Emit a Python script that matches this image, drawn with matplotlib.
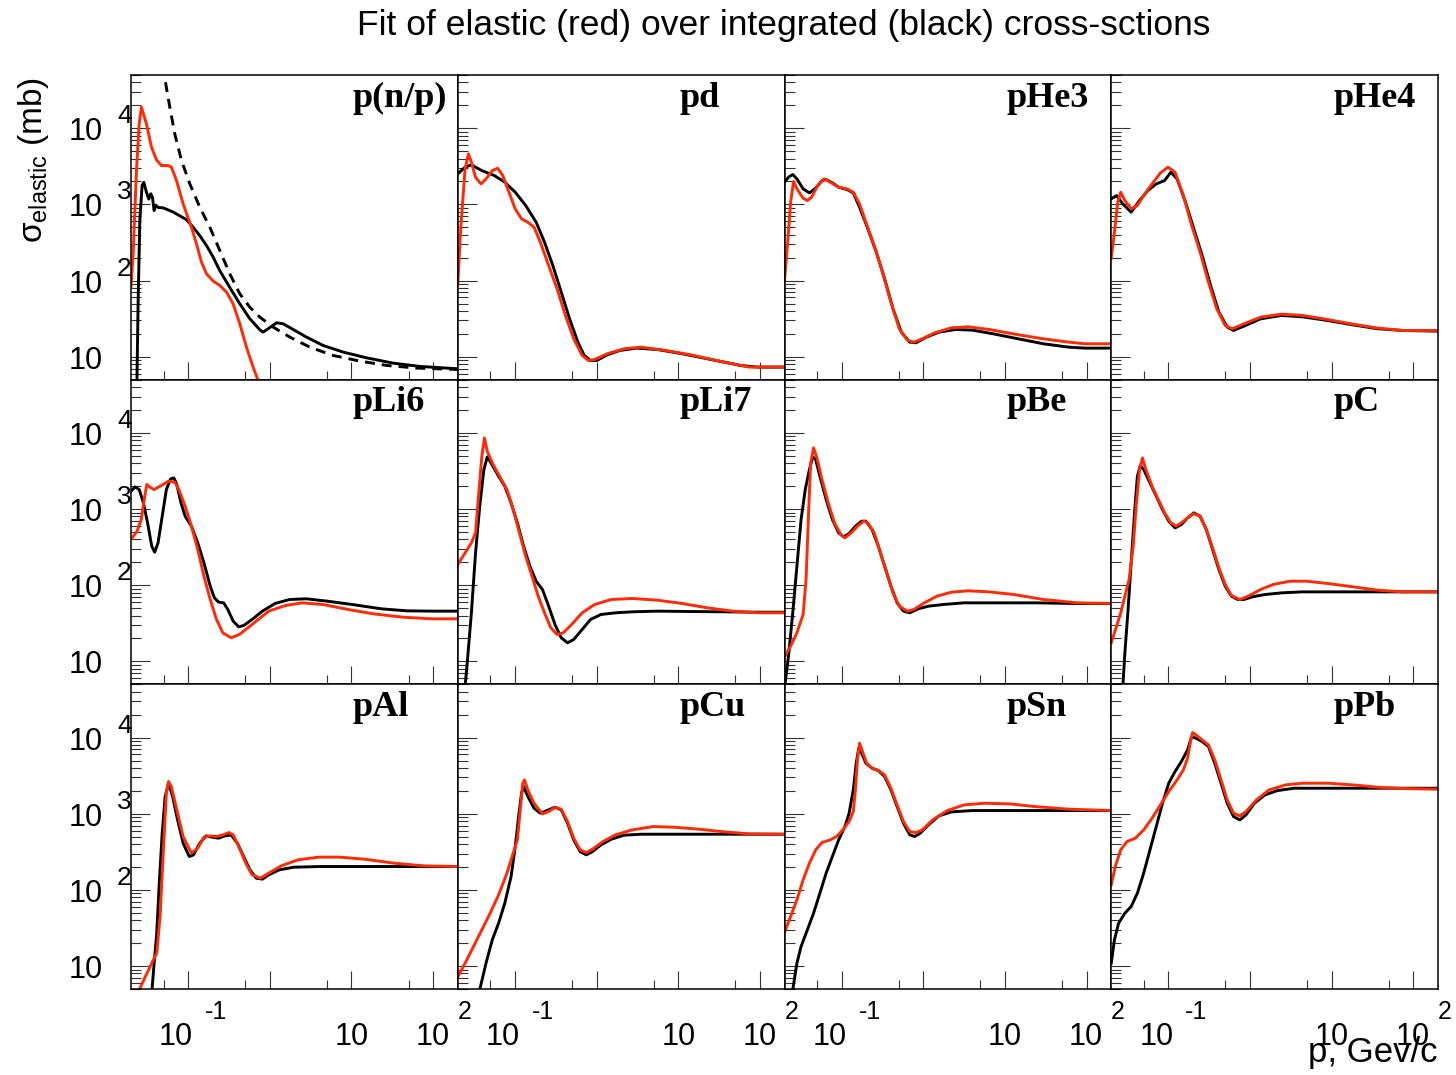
import numpy as np
import matplotlib
matplotlib.use("Agg")
import matplotlib.pyplot as plt
from matplotlib.ticker import LogLocator, NullFormatter

# every point is (log10 p [GeV/c], log10 sigma [mb])
pnp_black = [(-1.628, 0.56), (-1.612, 1.70), (-1.591, 2.79), (-1.563, 3.25), (-1.542, 3.29), (-1.510, 3.16),
             (-1.481, 3.07), (-1.457, 3.14), (-1.436, 3.09), (-1.416, 2.92), (-1.395, 2.99), (-1.367, 2.96),
             (-1.306, 2.955), (-1.183, 2.90), (-1.020, 2.80), (-0.938, 2.70), (-0.857, 2.59), (-0.775, 2.46),
             (-0.694, 2.31), (-0.612, 2.13), (-0.490, 1.91), (-0.367, 1.695), (-0.245, 1.50), (-0.122, 1.354),
             (-0.082, 1.323), (-0.020, 1.367), (0.082, 1.446), (0.163, 1.433), (0.286, 1.358), (0.449, 1.258),
             (0.653, 1.148), (0.898, 1.061), (1.183, 0.986), (1.510, 0.916), (1.836, 0.873), (2.30, 0.842)]
pnp_red = [(-1.699, 1.914), (-1.673, 2.351), (-1.632, 3.445), (-1.599, 4.057), (-1.571, 4.276), (-1.510, 4.057),
           (-1.448, 3.751), (-1.387, 3.585), (-1.326, 3.510), (-1.244, 3.510), (-1.204, 3.489), (-1.142, 3.314),
           (-1.061, 3.007), (-0.959, 2.701), (-0.898, 2.483), (-0.836, 2.242), (-0.775, 2.089), (-0.694, 1.993),
           (-0.612, 1.936), (-0.530, 1.848), (-0.449, 1.695), (-0.367, 1.433), (-0.286, 1.126), (-0.204, 0.864),
           (-0.143, 0.689), (-0.082, 0.470)]
pnp_dash = [(-1.277, 4.604), (-1.224, 4.276), (-1.163, 3.926), (-1.081, 3.576), (-0.979, 3.270), (-0.857, 2.964),
            (-0.734, 2.701), (-0.612, 2.395), (-0.490, 2.089), (-0.367, 1.826), (-0.245, 1.651), (-0.122, 1.520),
            (0.041, 1.389), (0.245, 1.258), (0.490, 1.126), (0.775, 1.017), (1.102, 0.943), (1.428, 0.886),
            (1.795, 0.851), (2.30, 0.833)]

pd_black = [(-1.699, 3.401), (-1.609, 3.488), (-1.532, 3.519), (-1.404, 3.444), (-1.251, 3.379), (-1.123, 3.291),
            (-0.995, 3.160), (-0.867, 2.985), (-0.739, 2.766), (-0.637, 2.504), (-0.535, 2.198), (-0.432, 1.848),
            (-0.330, 1.498), (-0.228, 1.192), (-0.151, 1.017), (-0.074, 0.951), (0.003, 0.951), (0.130, 1.025),
            (0.284, 1.082), (0.488, 1.113), (0.744, 1.095), (1.051, 1.039), (1.460, 0.951), (1.767, 0.885),
            (1.972, 0.864), (2.30, 0.864)]
pd_red = [(-1.699, 1.957), (-1.660, 2.723), (-1.609, 3.466), (-1.568, 3.663), (-1.532, 3.554), (-1.481, 3.357),
          (-1.414, 3.269), (-1.353, 3.335), (-1.276, 3.444), (-1.210, 3.475), (-1.148, 3.379), (-1.072, 3.160),
          (-0.995, 2.941), (-0.918, 2.810), (-0.841, 2.766), (-0.765, 2.701), (-0.688, 2.504), (-0.586, 2.198),
          (-0.483, 1.892), (-0.381, 1.542), (-0.279, 1.235), (-0.176, 1.017), (-0.100, 0.951), (-0.023, 0.964),
          (0.130, 1.039), (0.335, 1.104), (0.540, 1.126), (0.847, 1.082), (1.153, 1.025), (1.563, 0.929),
          (1.870, 0.864), (2.30, 0.864)]

phe3_black = [(-1.699, 3.291), (-1.650, 3.357), (-1.598, 3.392), (-1.547, 3.335), (-1.471, 3.204), (-1.394, 3.151),
              (-1.317, 3.213), (-1.240, 3.313), (-1.189, 3.326), (-1.113, 3.283), (-1.036, 3.226), (-0.934, 3.195),
              (-0.857, 3.151), (-0.780, 2.963), (-0.678, 2.679), (-0.575, 2.373), (-0.473, 2.023), (-0.371, 1.629),
              (-0.269, 1.323), (-0.166, 1.192), (-0.090, 1.183), (0.038, 1.257), (0.192, 1.323), (0.396, 1.358),
              (0.601, 1.349), (0.857, 1.301), (1.164, 1.235), (1.471, 1.170), (1.777, 1.126), (1.982, 1.113),
              (2.30, 1.113)]
phe3_red = [(-1.699, 2.001), (-1.660, 2.504), (-1.624, 3.029), (-1.588, 3.300), (-1.547, 3.204), (-1.471, 3.081),
            (-1.419, 3.051), (-1.368, 3.094), (-1.292, 3.248), (-1.215, 3.335), (-1.138, 3.291), (-1.036, 3.226),
            (-0.934, 3.204), (-0.857, 3.160), (-0.780, 3.007), (-0.703, 2.766), (-0.601, 2.460), (-0.499, 2.110),
            (-0.396, 1.717), (-0.294, 1.367), (-0.192, 1.214), (-0.115, 1.192), (-0.013, 1.235), (0.141, 1.314),
            (0.345, 1.380), (0.550, 1.393), (0.806, 1.358), (1.164, 1.288), (1.471, 1.235), (1.777, 1.192),
            (1.982, 1.170), (2.30, 1.170)]

phe4_black = [(-1.699, 3.073), (-1.634, 3.116), (-1.558, 3.007), (-1.455, 2.898), (-1.353, 3.051), (-1.251, 3.182),
              (-1.148, 3.269), (-1.046, 3.313), (-0.969, 3.423), (-0.893, 3.335), (-0.790, 3.029), (-0.688, 2.679),
              (-0.586, 2.329), (-0.483, 1.935), (-0.381, 1.585), (-0.279, 1.389), (-0.202, 1.345), (-0.074, 1.402),
              (0.130, 1.498), (0.386, 1.542), (0.642, 1.524), (0.949, 1.476), (1.256, 1.419), (1.563, 1.367),
              (1.870, 1.345), (2.30, 1.336)]
phe4_red = [(-1.699, 2.294), (-1.660, 2.635), (-1.619, 3.029), (-1.583, 3.160), (-1.532, 3.051), (-1.455, 2.941),
            (-1.379, 2.985), (-1.302, 3.116), (-1.199, 3.269), (-1.097, 3.414), (-1.005, 3.488), (-0.918, 3.423),
            (-0.816, 3.116), (-0.714, 2.723), (-0.611, 2.373), (-0.509, 1.979), (-0.407, 1.629), (-0.304, 1.410),
            (-0.217, 1.367), (-0.074, 1.432), (0.130, 1.520), (0.386, 1.559), (0.642, 1.542), (0.949, 1.489),
            (1.256, 1.428), (1.563, 1.376), (1.870, 1.345), (2.30, 1.345)]

pli6_black = [(-1.699, 3.234), (-1.650, 3.291), (-1.598, 3.256), (-1.547, 3.081), (-1.496, 2.819), (-1.445, 2.513),
              (-1.409, 2.434), (-1.368, 2.556), (-1.317, 2.906), (-1.266, 3.256), (-1.215, 3.396), (-1.174, 3.409),
              (-1.138, 3.322), (-1.087, 3.081), (-1.036, 2.906), (-0.959, 2.775), (-0.882, 2.556), (-0.806, 2.294),
              (-0.729, 1.988), (-0.678, 1.835), (-0.627, 1.778), (-0.565, 1.769), (-0.514, 1.682), (-0.448, 1.528),
              (-0.381, 1.454), (-0.320, 1.471), (-0.217, 1.550), (-0.090, 1.660), (0.064, 1.760), (0.243, 1.813),
              (0.448, 1.822), (0.703, 1.791), (1.010, 1.747), (1.368, 1.690), (1.675, 1.664), (1.982, 1.660),
              (2.30, 1.660)]
pli6_red = [(-1.699, 2.600), (-1.624, 2.710), (-1.573, 2.863), (-1.537, 3.125), (-1.506, 3.322), (-1.471, 3.291),
            (-1.419, 3.256), (-1.343, 3.300), (-1.240, 3.366), (-1.164, 3.353), (-1.113, 3.256), (-1.036, 3.038),
            (-0.959, 2.775), (-0.882, 2.469), (-0.806, 2.119), (-0.729, 1.813), (-0.652, 1.550), (-0.575, 1.375),
            (-0.473, 1.310), (-0.371, 1.354), (-0.217, 1.485), (-0.013, 1.660), (0.192, 1.734), (0.396, 1.769),
            (0.652, 1.747), (0.959, 1.682), (1.266, 1.625), (1.624, 1.581), (1.982, 1.559), (2.30, 1.559)]

pli7_black = [(-1.624, 0.500), (-1.583, 0.982), (-1.532, 1.638), (-1.481, 2.425), (-1.430, 3.038), (-1.379, 3.519),
              (-1.338, 3.685), (-1.292, 3.606), (-1.199, 3.431), (-1.123, 3.300), (-1.046, 3.081), (-0.969, 2.819),
              (-0.893, 2.513), (-0.816, 2.250), (-0.739, 2.053), (-0.662, 1.944), (-0.586, 1.725), (-0.509, 1.485),
              (-0.432, 1.310), (-0.355, 1.244), (-0.279, 1.288), (-0.176, 1.419), (-0.074, 1.550), (0.054, 1.616),
              (0.233, 1.638), (0.437, 1.651), (0.744, 1.660), (1.153, 1.655), (1.563, 1.651), (1.972, 1.646),
              (2.30, 1.646)]
pli7_red = [(-1.699, 2.272), (-1.609, 2.425), (-1.532, 2.556), (-1.481, 2.688), (-1.445, 3.169), (-1.404, 3.694),
            (-1.373, 3.934), (-1.338, 3.759), (-1.276, 3.606), (-1.199, 3.453), (-1.097, 3.256), (-1.020, 2.994),
            (-0.944, 2.688), (-0.867, 2.381), (-0.790, 2.119), (-0.714, 1.856), (-0.637, 1.638), (-0.560, 1.441),
            (-0.483, 1.354), (-0.407, 1.375), (-0.304, 1.485), (-0.176, 1.638), (-0.023, 1.747), (0.182, 1.813),
            (0.437, 1.826), (0.744, 1.804), (1.051, 1.760), (1.358, 1.703), (1.665, 1.660), (1.972, 1.638),
            (2.30, 1.638)]

pbe_black = [(-1.710, 0.55), (-1.650, 1.069), (-1.598, 1.638), (-1.547, 2.250), (-1.496, 2.863), (-1.445, 3.256),
             (-1.394, 3.519), (-1.353, 3.685), (-1.317, 3.650), (-1.266, 3.431), (-1.189, 3.125), (-1.113, 2.863),
             (-1.036, 2.688), (-0.974, 2.635), (-0.908, 2.679), (-0.831, 2.775), (-0.754, 2.841), (-0.703, 2.841),
             (-0.627, 2.731), (-0.550, 2.513), (-0.473, 2.250), (-0.396, 1.988), (-0.320, 1.769), (-0.243, 1.660),
             (-0.166, 1.638), (-0.064, 1.690), (0.064, 1.725), (0.243, 1.747), (0.499, 1.769), (0.857, 1.769),
             (1.368, 1.769), (1.880, 1.760), (2.30, 1.760)]
pbe_red = [(-1.699, 1.060), (-1.624, 1.200), (-1.547, 1.375), (-1.471, 1.616), (-1.435, 2.075), (-1.404, 2.950),
           (-1.379, 3.606), (-1.343, 3.803), (-1.302, 3.672), (-1.240, 3.388), (-1.164, 3.081), (-1.087, 2.819),
           (-1.010, 2.666), (-0.959, 2.622), (-0.882, 2.688), (-0.806, 2.775), (-0.729, 2.841), (-0.678, 2.819),
           (-0.601, 2.688), (-0.524, 2.425), (-0.448, 2.163), (-0.371, 1.900), (-0.294, 1.725), (-0.192, 1.660),
           (-0.115, 1.682), (0.013, 1.769), (0.166, 1.856), (0.345, 1.909), (0.550, 1.927), (0.806, 1.913),
           (1.113, 1.878), (1.471, 1.813), (1.880, 1.769), (2.30, 1.760)]

pc_black = [(-1.570, 0.45), (-1.532, 1.113), (-1.496, 1.638), (-1.455, 2.294), (-1.414, 2.950), (-1.379, 3.431),
            (-1.343, 3.571), (-1.302, 3.519), (-1.225, 3.344), (-1.148, 3.169), (-1.072, 2.994), (-0.995, 2.841),
            (-0.918, 2.753), (-0.841, 2.797), (-0.765, 2.884), (-0.688, 2.950), (-0.611, 2.906), (-0.535, 2.731),
            (-0.458, 2.469), (-0.381, 2.206), (-0.304, 1.988), (-0.228, 1.856), (-0.151, 1.813), (-0.074, 1.813),
            (0.028, 1.848), (0.182, 1.878), (0.386, 1.900), (0.642, 1.913), (1.051, 1.913), (1.460, 1.913),
            (1.870, 1.913), (2.30, 1.913)]
pc_red = [(-1.699, 1.244), (-1.634, 1.463), (-1.583, 1.638), (-1.532, 1.856), (-1.481, 2.075), (-1.430, 2.513),
          (-1.394, 3.038), (-1.353, 3.519), (-1.317, 3.672), (-1.276, 3.519), (-1.199, 3.300), (-1.123, 3.125),
          (-1.046, 2.950), (-0.969, 2.819), (-0.903, 2.775), (-0.841, 2.819), (-0.765, 2.884), (-0.688, 2.941),
          (-0.611, 2.906), (-0.535, 2.731), (-0.458, 2.491), (-0.381, 2.228), (-0.304, 2.010), (-0.228, 1.865),
          (-0.125, 1.813), (-0.023, 1.856), (0.130, 1.944), (0.284, 2.010), (0.488, 2.053), (0.693, 2.053),
          (0.949, 2.023), (1.256, 1.980), (1.563, 1.935), (1.870, 1.913), (2.30, 1.913)]

pal_black = [(-1.460, 0.45), (-1.419, 0.995), (-1.384, 1.432), (-1.353, 2.088), (-1.317, 2.744), (-1.281, 3.226),
             (-1.240, 3.401), (-1.189, 3.226), (-1.138, 2.963), (-1.061, 2.613), (-0.985, 2.438), (-0.934, 2.460),
             (-0.857, 2.613), (-0.780, 2.709), (-0.703, 2.692), (-0.627, 2.679), (-0.550, 2.709), (-0.473, 2.722),
             (-0.396, 2.613), (-0.320, 2.438), (-0.243, 2.263), (-0.166, 2.154), (-0.090, 2.141), (-0.013, 2.198),
             (0.115, 2.263), (0.294, 2.298), (0.601, 2.307), (1.113, 2.307), (1.624, 2.307), (2.30, 2.307)]
pal_red = [(-1.699, 0.45), (-1.598, 0.689), (-1.522, 0.864), (-1.445, 1.038), (-1.384, 1.170), (-1.343, 1.651),
           (-1.302, 2.526), (-1.266, 3.269), (-1.240, 3.423), (-1.205, 3.357), (-1.138, 3.051), (-1.061, 2.701),
           (-0.959, 2.482), (-0.882, 2.548), (-0.806, 2.692), (-0.729, 2.709), (-0.652, 2.701), (-0.575, 2.722),
           (-0.499, 2.753), (-0.448, 2.722), (-0.371, 2.548), (-0.294, 2.351), (-0.217, 2.198), (-0.115, 2.154),
           (-0.013, 2.220), (0.141, 2.316), (0.345, 2.395), (0.601, 2.430), (0.857, 2.430), (1.164, 2.403),
           (1.522, 2.351), (1.880, 2.316), (2.30, 2.307)]

pcu_black = [(-1.470, 0.50), (-1.430, 0.689), (-1.353, 1.038), (-1.276, 1.345), (-1.199, 1.563), (-1.123, 1.826),
             (-1.046, 2.176), (-0.995, 2.570), (-0.954, 2.963), (-0.918, 3.269), (-0.893, 3.357), (-0.841, 3.226),
             (-0.765, 3.073), (-0.688, 3.007), (-0.586, 3.051), (-0.509, 3.086), (-0.432, 3.051), (-0.355, 2.876),
             (-0.279, 2.657), (-0.202, 2.504), (-0.125, 2.460), (-0.049, 2.504), (0.054, 2.591), (0.182, 2.666),
             (0.335, 2.718), (0.540, 2.731), (0.949, 2.731), (1.460, 2.731), (2.30, 2.731)]
pcu_red = [(-1.699, 0.855), (-1.609, 1.038), (-1.506, 1.257), (-1.404, 1.476), (-1.302, 1.695), (-1.199, 1.935),
           (-1.097, 2.220), (-1.020, 2.482), (-0.969, 2.657), (-0.934, 3.051), (-0.903, 3.401), (-0.882, 3.444),
           (-0.841, 3.313), (-0.765, 3.138), (-0.662, 2.998), (-0.586, 3.029), (-0.509, 3.081), (-0.432, 3.060),
           (-0.355, 2.898), (-0.279, 2.679), (-0.202, 2.526), (-0.125, 2.491), (-0.049, 2.535), (0.079, 2.635),
           (0.233, 2.723), (0.437, 2.788), (0.693, 2.832), (0.949, 2.823), (1.256, 2.797), (1.563, 2.762),
           (1.870, 2.736), (2.30, 2.731)]

psn_black = [(-1.625, 0.45), (-1.598, 0.689), (-1.547, 1.038), (-1.496, 1.257), (-1.419, 1.476), (-1.343, 1.695),
             (-1.266, 1.957), (-1.189, 2.220), (-1.113, 2.438), (-1.036, 2.657), (-0.959, 2.832), (-0.908, 3.007),
             (-0.857, 3.313), (-0.821, 3.663), (-0.790, 3.860), (-0.754, 3.794), (-0.703, 3.663), (-0.627, 3.598),
             (-0.550, 3.567), (-0.473, 3.488), (-0.396, 3.313), (-0.320, 3.094), (-0.243, 2.876), (-0.166, 2.723),
             (-0.105, 2.701), (-0.038, 2.744), (0.064, 2.854), (0.192, 2.972), (0.345, 3.024), (0.601, 3.042),
             (1.113, 3.042), (1.624, 3.042), (2.30, 3.042)]
psn_red = [(-1.699, 1.441), (-1.624, 1.651), (-1.547, 1.870), (-1.471, 2.132), (-1.394, 2.351), (-1.317, 2.526),
           (-1.240, 2.622), (-1.138, 2.657), (-1.061, 2.701), (-0.985, 2.788), (-0.908, 2.898), (-0.857, 3.029),
           (-0.831, 3.313), (-0.806, 3.707), (-0.780, 3.926), (-0.744, 3.816), (-0.693, 3.663), (-0.627, 3.598),
           (-0.550, 3.567), (-0.473, 3.510), (-0.396, 3.335), (-0.320, 3.116), (-0.243, 2.898), (-0.166, 2.766),
           (-0.090, 2.753), (-0.013, 2.788), (0.115, 2.919), (0.294, 3.042), (0.499, 3.116), (0.754, 3.138),
           (1.061, 3.129), (1.368, 3.094), (1.777, 3.060), (2.30, 3.042)]

ppb_black = [(-1.699, 1.038), (-1.660, 1.345), (-1.609, 1.563), (-1.532, 1.695), (-1.455, 1.782), (-1.379, 1.957),
             (-1.302, 2.220), (-1.225, 2.526), (-1.148, 2.832), (-1.072, 3.138), (-0.995, 3.401), (-0.918, 3.554),
             (-0.841, 3.685), (-0.765, 3.838), (-0.714, 4.013), (-0.662, 3.991), (-0.586, 3.948), (-0.509, 3.882),
             (-0.432, 3.663), (-0.355, 3.401), (-0.279, 3.138), (-0.202, 2.963), (-0.125, 2.919), (-0.049, 2.985),
             (0.054, 3.138), (0.182, 3.248), (0.335, 3.304), (0.540, 3.335), (0.949, 3.335), (1.460, 3.335),
             (2.30, 3.335)]
ppb_red = [(-1.699, 2.066), (-1.650, 2.307), (-1.583, 2.526), (-1.506, 2.635), (-1.404, 2.679), (-1.302, 2.788),
           (-1.199, 2.941), (-1.097, 3.116), (-0.995, 3.291), (-0.893, 3.444), (-0.816, 3.576), (-0.765, 3.729),
           (-0.729, 3.948), (-0.703, 4.066), (-0.662, 4.035), (-0.586, 3.969), (-0.509, 3.904), (-0.432, 3.707),
           (-0.355, 3.444), (-0.279, 3.182), (-0.202, 3.007), (-0.125, 2.972), (-0.049, 3.029), (0.079, 3.182),
           (0.233, 3.313), (0.437, 3.379), (0.642, 3.401), (0.949, 3.401), (1.256, 3.379), (1.563, 3.348),
           (1.870, 3.331), (2.30, 3.322)]

names = ['p(n/p)', 'pd', 'pHe3', 'pHe4', 'pLi6', 'pLi7', 'pBe', 'pC', 'pAl', 'pCu', 'pSn', 'pPb']
black_curves = [pnp_black, pd_black, phe3_black, phe4_black, pli6_black, pli7_black,
                pbe_black, pc_black, pal_black, pcu_black, psn_black, ppb_black]
red_curves = [pnp_red, pd_red, phe3_red, phe4_red, pli6_red, pli7_red,
              pbe_red, pc_red, pal_red, pcu_red, psn_red, ppb_red]

x_labels = [(0.1, '10', '-1'), (10, '10', ''), (100, '10', '2')]
y_labels = [(1e4, '10', '4'), (1e3, '10', '3'), (1e2, '10', '2'), (10, '10', '')]

title = 'Fit of elastic (red) over integrated (black) cross-sctions'
RED = '#ff2a06'

plt.rcParams['font.family'] = ['Liberation Sans', 'DejaVu Sans']
plt.rcParams['mathtext.default'] = 'regular'

FW, FH = 1456, 1075
PT = 0.72  # points per pixel at dpi 100
fig = plt.figure(figsize=(FW / 100, FH / 100), dpi=100)

L, R, T, B = 131, 1438, 75, 989
W = (R - L) / 4
H = (B - T) / 3


def unlog(pts):
    a = np.array(pts)
    return 10 ** a[:, 0], 10 ** a[:, 1]


for i in range(12):
    r, c = divmod(i, 4)
    ax = fig.add_axes([(L + c * W) / FW, 1 - (T + (r + 1) * H) / FH, W / FW, H / FH])
    ax.set_xscale('log')
    ax.set_yscale('log')

    x, y = unlog(black_curves[i])
    ax.plot(x, y, color='black', lw=2.1)
    if i == 0:
        x, y = unlog(pnp_dash)
        ax.plot(x, y, color='black', lw=2.1, ls=(0, (3.4, 2.4)))
    x, y = unlog(red_curves[i])
    ax.plot(x, y, color=RED, lw=2.1)

    ax.set_xlim(0.02, 200)
    ax.set_ylim(5, 5e4)
    ax.xaxis.set_major_locator(LogLocator(base=10.0, subs=(1.0,), numticks=20))
    ax.xaxis.set_minor_locator(LogLocator(base=10.0, subs=(5.0,), numticks=20))
    ax.yaxis.set_major_locator(LogLocator(base=10.0, subs=(1.0,), numticks=20))
    ax.yaxis.set_minor_locator(LogLocator(base=10.0, subs=np.arange(2, 10), numticks=20))
    ax.xaxis.set_major_formatter(NullFormatter())
    ax.xaxis.set_minor_formatter(NullFormatter())
    ax.yaxis.set_major_formatter(NullFormatter())
    ax.yaxis.set_minor_formatter(NullFormatter())
    ax.tick_params(axis='x', which='major', direction='in', length=18 * PT, width=0.8, color='#333333',
                   top=False, bottom=True)
    ax.tick_params(axis='x', which='minor', direction='in', length=9 * PT, width=0.8, color='#333333',
                   top=False, bottom=True)
    ax.tick_params(axis='y', which='major', direction='in', length=19 * PT, width=0.8, color='#333333',
                   right=False, left=True)
    ax.tick_params(axis='y', which='minor', direction='in', length=10 * PT, width=0.8, color='#333333',
                   right=False, left=True)
    for s in ax.spines.values():
        s.set_linewidth(1.1)

    ax.text(0.679, 0.896, names[i], transform=ax.transAxes, ha='left', va='baseline',
            fontsize=26, fontweight='bold', family=['Liberation Serif', 'DejaVu Serif'])

    if r == 2:
        for xv, base, sup in x_labels:
            if sup:
                dxb = 5 if sup == '-1' else 16.5
                dxs = 17 if sup == '-1' else 24.5
                ax.annotate(base, xy=(xv, 0), xycoords=('data', 'axes fraction'),
                            xytext=(dxb * PT, -56 * PT), textcoords='offset points',
                            ha='right', va='baseline', fontsize=22, annotation_clip=False)
                ax.annotate(sup, xy=(xv, 0), xycoords=('data', 'axes fraction'),
                            xytext=(dxs * PT, -30 * PT), textcoords='offset points',
                            ha='left', va='baseline', fontsize=18, annotation_clip=False)
            else:
                ax.annotate(base, xy=(xv, 0), xycoords=('data', 'axes fraction'),
                            xytext=(0, -56 * PT), textcoords='offset points',
                            ha='center', va='baseline', fontsize=22, annotation_clip=False)
    if c == 0:
        for yv, base, sup in y_labels:
            ax.annotate(base, xy=(0, yv), xycoords=('axes fraction', 'data'),
                        xytext=(-28 * PT, -12 * PT), textcoords='offset points',
                        ha='right', va='baseline', fontsize=22, annotation_clip=False)
            if sup:
                ax.annotate(sup, xy=(0, yv), xycoords=('axes fraction', 'data'),
                            xytext=(-14 * PT, 5 * PT), textcoords='offset points',
                            ha='left', va='baseline', fontsize=19, annotation_clip=False)

fig.text(784 / FW, 1 - 35 / FH, title, ha='center', va='baseline', fontsize=25.5)
fig.text(42 / FW, 1 - 77 / FH, r'$\sigma_{elastic}$ (mb)', rotation=90, rotation_mode='anchor',
         ha='right', va='baseline', fontsize=24)
fig.text(1438 / FW, 1 - 1062 / FH, 'p, Gev/c', ha='right', va='baseline', fontsize=25)

fig.savefig('out.png', dpi=100)
